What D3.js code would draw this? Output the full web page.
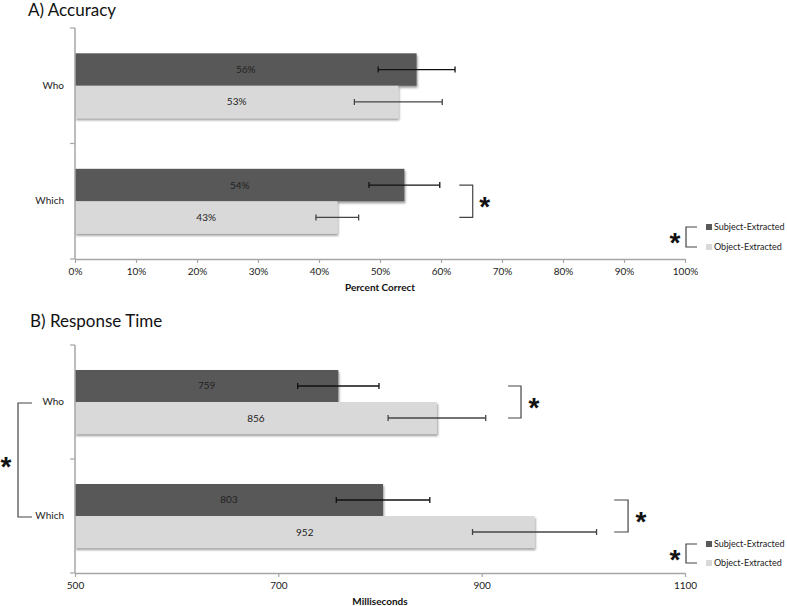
<!DOCTYPE html>
<html>
<head>
<meta charset="utf-8">
<script src="https://cdn.jsdelivr.net/npm/d3@7"></script>
<style>
  html, body { margin: 0; padding: 0; background: #fff; }
  svg { display: block; }
  text { font-family: Lato, "Open Sans", sans-serif; fill: #222; }
</style>
</head>
<body>
<script>
// ---------- data ----------
const categories = ["Who", "Which"];
const seriesNames = ["Subject-Extracted", "Object-Extracted"];

const accSubject = [56, 54];
const accObject = [53, 43];
const accSubjectErr = [6.3, 5.8];
const accObjectErr = [7.2, 3.5];
const accTicks = [0, 10, 20, 30, 40, 50, 60, 70, 80, 90, 100];

const rtSubject = [759, 803];
const rtObject = [856, 952];
const rtSubjectErr = [40, 46];
const rtObjectErr = [48, 61];
const rtTicks = [500, 700, 900, 1100];

const colors = ["#595959", "#d9d9d9"];
const errColors = ["#111", "#444"];

// ---------- setup ----------
const W = 787, H = 606;
const svg = d3.select("body").append("svg").attr("width", W).attr("height", H);
const defs = svg.append("defs");
const f = defs.append("filter").attr("id", "shadow").attr("x", "-5%").attr("y", "-20%").attr("width", "115%").attr("height", "150%");
f.append("feDropShadow").attr("dx", 1).attr("dy", 2).attr("stdDeviation", 0.8)
  .attr("flood-color", "#000").attr("flood-opacity", 0.4);

function asterisk(g, x, y) {
  g.append("text").attr("x", x).attr("y", y + 15)
    .attr("text-anchor", "middle")
    .style("font-family", "'Liberation Sans', Arial, sans-serif")
    .style("font-weight", "bold").style("font-size", "28px").style("fill", "#111")
    .text("*");
}
function bracket(g, x1, x2, y1, y2) {
  // opens to the left if x1 < x2 (vertical at x2)
  g.append("path")
    .attr("d", `M${x1},${y1}H${x2}V${y2}H${x1}`)
    .attr("fill", "none").attr("stroke", "#444").attr("stroke-width", 1.2);
}

function panel(opts) {
  const g = svg.append("g");
  const x = d3.scaleLinear().domain(opts.domain).range([75, 685]);
  const y = d3.scaleBand().domain(categories).range([opts.top, opts.bottom]);
  const inner = d3.scaleBand().domain(seriesNames).range([0, y.bandwidth()]).paddingOuter(0.78);

  // title
  g.append("text").attr("x", opts.titleX).attr("y", opts.titleY)
    .style("font-size", "17px").style("fill", "#111").text(opts.title);

  // bars
  const vals = [opts.subj, opts.obj];
  const errs = [opts.subjErr, opts.obj ? opts.objErr : null];
  seriesNames.forEach((s, si) => {
    const data = categories.map((c, ci) => ({ c, v: vals[si][ci], e: errs[si][ci] }));
    g.append("g").selectAll("rect").data(data).join("rect")
      .attr("x", x(opts.domain[0]))
      .attr("y", d => y(d.c) + inner(s))
      .attr("width", d => x(d.v) - x(opts.domain[0]))
      .attr("height", inner.bandwidth())
      .attr("fill", colors[si])
      .attr("filter", "url(#shadow)");
  });
  // value labels + error bars
  seriesNames.forEach((s, si) => {
    const data = categories.map((c, ci) => ({ c, v: vals[si][ci], e: errs[si][ci] }));
    const cy = d => y(d.c) + inner(s) + inner.bandwidth() / 2;
    g.append("g").selectAll("text").data(data).join("text")
      .attr("x", d => (x(opts.domain[0]) + x(d.v)) / 2)
      .attr("y", d => cy(d) + 3.5)
      .attr("text-anchor", "middle")
      .style("font-size", "10px").style("fill", "#222")
      .text(d => opts.fmt(d.v));
    const eg = g.append("g").attr("stroke", errColors[si]).attr("stroke-width", 1.3);
    data.forEach(d => {
      const yy = cy(d);
      eg.append("line").attr("x1", x(d.v - d.e)).attr("x2", x(d.v + d.e)).attr("y1", yy).attr("y2", yy);
      eg.append("line").attr("x1", x(d.v - d.e)).attr("x2", x(d.v - d.e)).attr("y1", yy - 3).attr("y2", yy + 3);
      eg.append("line").attr("x1", x(d.v + d.e)).attr("x2", x(d.v + d.e)).attr("y1", yy - 3).attr("y2", yy + 3);
    });
  });

  // x axis
  const xa = g.append("g").attr("transform", `translate(0,${opts.bottom})`)
    .call(d3.axisBottom(x).tickValues(opts.ticks).tickFormat(opts.tickFmt).tickSize(4).tickSizeOuter(0).tickPadding(5));
  xa.select(".domain").attr("stroke", "#a6a6a6").attr("stroke-width", 1.5);
  xa.selectAll(".tick line").attr("stroke", "#a6a6a6").attr("stroke-width", 1.2);
  xa.selectAll(".tick text").style("font-size", "10px").style("font-family", "Lato, sans-serif").style("fill", "#222");

  g.append("text").attr("x", (75 + 685) / 2).attr("y", opts.bottom + 32)
    .attr("text-anchor", "middle").style("font-size", "10px").style("font-weight", "bold").style("fill", "#111")
    .text(opts.axisTitle);

  // y axis
  const ya = g.append("g").attr("transform", "translate(75,0)")
    .call(d3.axisLeft(y).tickSize(0).tickPadding(11));
  ya.select(".domain").remove();
  ya.selectAll(".tick text").style("font-size", "10px").style("font-family", "Lato, sans-serif").style("fill", "#222");
  g.append("line").attr("x1", 75).attr("x2", 75).attr("y1", opts.top).attr("y2", opts.bottom)
    .attr("stroke", "#a6a6a6").attr("stroke-width", 1.5);
  const bounds = [opts.top, y(categories[1]), opts.bottom];
  bounds.forEach(b => g.append("line").attr("x1", 70).attr("x2", 75).attr("y1", b).attr("y2", b)
    .attr("stroke", "#a6a6a6").attr("stroke-width", 1.2));

  // legend
  const lg = g.append("g");
  seriesNames.forEach((s, si) => {
    const ly = opts.legendY[si];
    lg.append("rect").attr("x", 706).attr("y", ly - 3).attr("width", 6).attr("height", 6).attr("fill", colors[si]);
    lg.append("text").attr("x", 714).attr("y", ly + 3.2).style("font-size", "9px").style("fill", "#222").text(s);
  });
  bracket(lg, 697, 686, opts.legendY[0], opts.legendY[1]);
  asterisk(lg, 675, (opts.legendY[0] + opts.legendY[1]) / 2);

  return { g, x, y, inner };
}

// ---------- Panel A ----------
const A = panel({
  title: "A) Accuracy", titleX: 28, titleY: 16,
  domain: [0, 100], top: 28, bottom: 259,
  subj: accSubject, obj: accObject, subjErr: accSubjectErr, objErr: accObjectErr,
  fmt: v => v + "%", ticks: accTicks, tickFmt: v => v + "%",
  axisTitle: "Percent Correct", legendY: [227, 247]
});
{
  const c = "Which";
  const y1 = A.y(c) + A.inner(seriesNames[0]) + A.inner.bandwidth() / 2;
  const y2 = A.y(c) + A.inner(seriesNames[1]) + A.inner.bandwidth() / 2;
  bracket(A.g, A.x(63), A.x(65.2), y1, y2);
  asterisk(A.g, A.x(65.2) + 12, (y1 + y2) / 2);
}

// ---------- Panel B ----------
const B = panel({
  title: "B) Response Time", titleX: 30, titleY: 327,
  domain: [500, 1100], top: 345, bottom: 573,
  subj: rtSubject, obj: rtObject, subjErr: rtSubjectErr, objErr: rtObjectErr,
  fmt: v => v, ticks: rtTicks, tickFmt: v => v,
  axisTitle: "Milliseconds", legendY: [544, 563]
});
[["Who", 926, 938.7], ["Which", 1030.4, 1044]].forEach(([c, a, b]) => {
  const y1 = B.y(c) + B.inner(seriesNames[0]) + B.inner.bandwidth() / 2;
  const y2 = B.y(c) + B.inner(seriesNames[1]) + B.inner.bandwidth() / 2;
  bracket(B.g, B.x(a), B.x(b), y1, y2);
  asterisk(B.g, B.x(b) + 13, (y1 + y2) / 2);
});
{
  const yWho = B.y("Who") + B.y.bandwidth() / 2;
  const yWhich = B.y("Which") + B.y.bandwidth() / 2;
  bracket(B.g, 32, 18, yWho + 1, yWhich + 1);
  asterisk(B.g, 6, (yWho + yWhich) / 2 + 2);
}
</script>
</body>
</html>
